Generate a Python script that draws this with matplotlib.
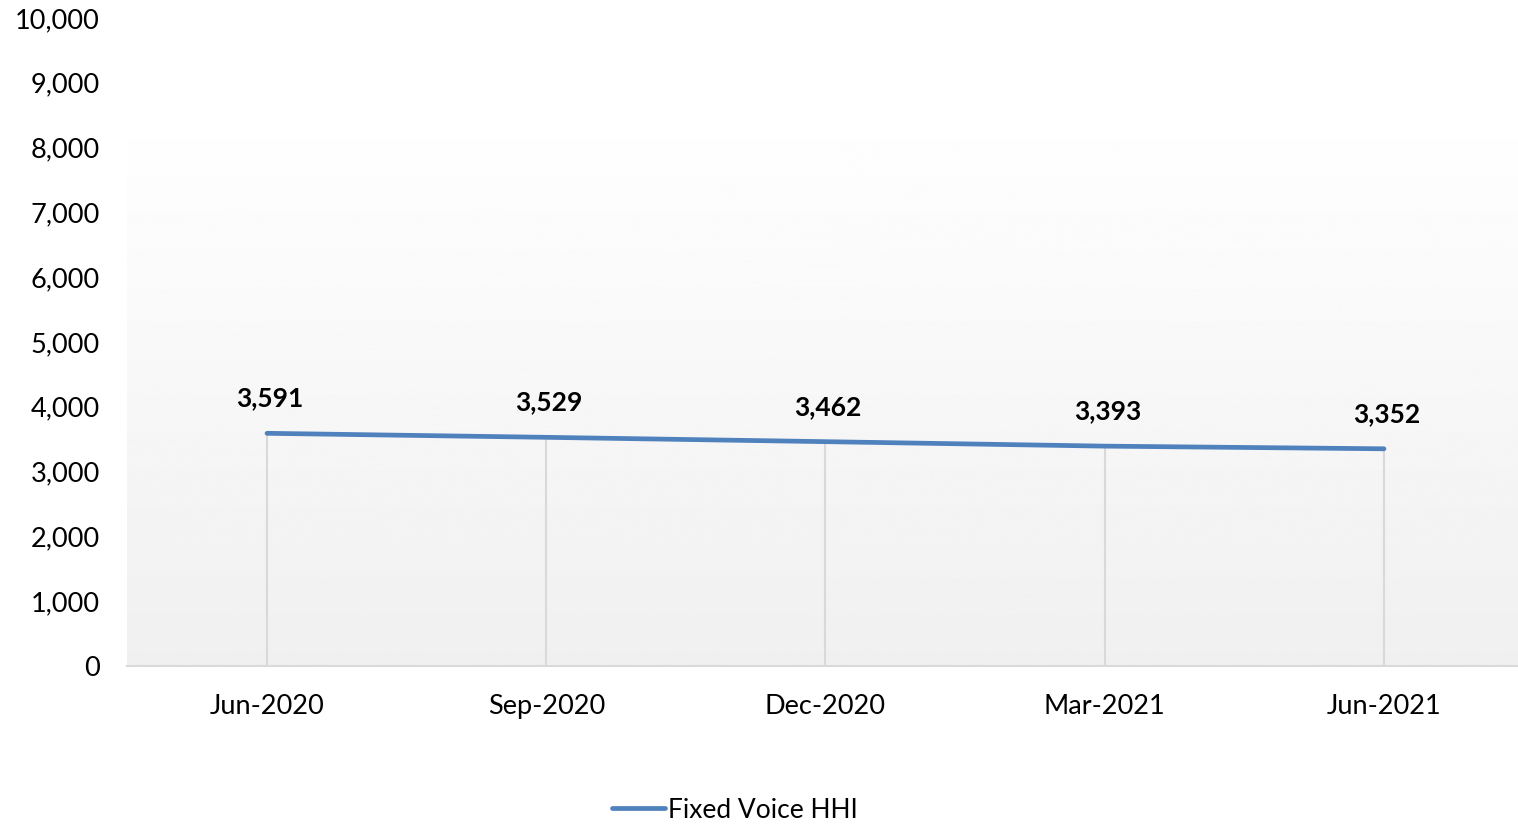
import numpy as np
import matplotlib
matplotlib.use("Agg")
import matplotlib.pyplot as plt
from matplotlib.ticker import FuncFormatter

quarters = ["Jun-2020", "Sep-2020", "Dec-2020", "Mar-2021", "Jun-2021"]
hhi = [3591, 3529, 3462, 3393, 3352]
series_name = "Fixed Voice HHI"

plt.rcParams['font.family'] = ['Lato', 'DejaVu Sans']

fig = plt.figure(figsize=(15.18, 8.26), dpi=100)
ax = fig.add_axes([127.4 / 1518, 160 / 826, (1523.6 - 127.4) / 1518, 648 / 826])

x = np.arange(len(quarters))

# plot-area shading: white at the top fading to light grey at the baseline
grad = np.linspace(0.94, 1.0, 256).reshape(-1, 1)
ax.imshow(grad, cmap="gray", vmin=0, vmax=1, aspect="auto", origin="lower",
          extent=(-0.5, 4.5, 0, 8700), zorder=0)

ax.vlines(x, 0, hhi, color="#d9d9d9", lw=1.5, zorder=1)
line, = ax.plot(x, hhi, color="#4f81bd", lw=3.4, solid_capstyle="round", zorder=3,
                label=series_name)

for xi, v in zip(x, hhi):
    ax.annotate(f"{v:,}", (xi, v), xytext=(2, 25), textcoords="offset points",
                ha="center", va="center", fontsize=19, fontweight="bold", color="#000000")

ax.set_xlim(-0.5, 4.5)
ax.set_ylim(0, 10000)
ax.set_yticks(np.arange(0, 10001, 1000))
ax.yaxis.set_major_formatter(FuncFormatter(lambda v, p: f"{int(v):,}"))
ax.set_xticks(x)
ax.set_xticklabels(quarters)
ax.tick_params(axis="both", length=0, labelsize=19.5, colors="#000000")
ax.tick_params(axis="x", pad=20)
ax.tick_params(axis="y", pad=20)

for s in ["top", "right", "left"]:
    ax.spines[s].set_visible(False)
ax.spines["bottom"].set_color("#d9d9d9")
ax.spines["bottom"].set_linewidth(1.5)

fig.legend(handles=[line], loc="center", bbox_to_anchor=(735 / 1518, 1 - 810 / 826),
           frameon=False, fontsize=19, handlelength=2.0, handletextpad=0.15)

fig.savefig("out.png", dpi=100)
